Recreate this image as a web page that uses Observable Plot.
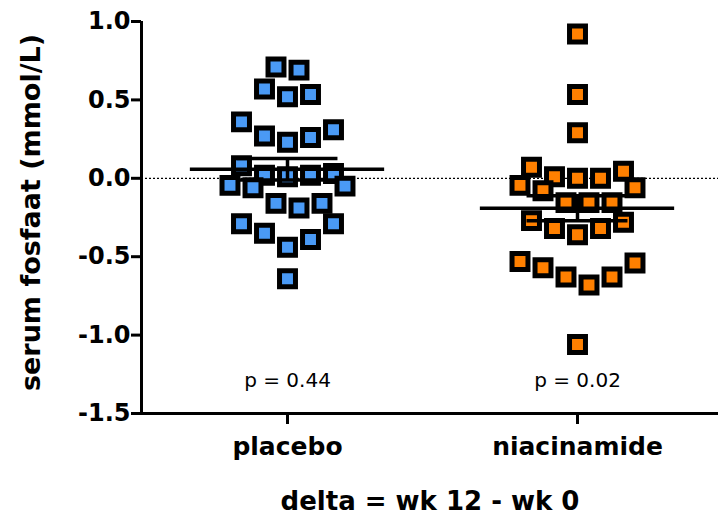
<!DOCTYPE html>
<html>
<head>
<meta charset="utf-8">
<script src="https://cdn.jsdelivr.net/npm/d3@7"></script>
<script src="https://cdn.jsdelivr.net/npm/@observablehq/plot@0.6"></script>
<style>
  html, body { margin: 0; padding: 0; background: #fff; }
  #chart { width: 718px; height: 529px; }
</style>
</head>
<body>
<div id="chart"></div>
<script>
// ---- data ----
const groups = ["placebo", "niacinamide"];
const placebo = [0.71, 0.69, 0.57, 0.535, 0.52, 0.36, 0.31, 0.27, 0.26, 0.23,
  0.08, 0.03, 0.02, 0.02, 0.01, -0.045, -0.05, -0.06, -0.16, -0.16, -0.19,
  -0.29, -0.29, -0.35, -0.39, -0.44, -0.64];
const niacinamide = [0.92, 0.535, 0.29, 0.07, 0.045, 0.01, 0.0, 0.0,
  -0.045, -0.06, -0.08, -0.155, -0.155, -0.155, -0.27, -0.28, -0.32, -0.32, -0.36,
  -0.53, -0.54, -0.57, -0.63, -0.63, -0.68, -1.06];
const pLabels = ["p = 0.44", "p = 0.02"];
const yTicks = [1.0, 0.5, 0.0, -0.5, -1.0, -1.5];
const yTitle = "serum fosfaat (mmol/L)";
const xTitle = "delta = wk 12 - wk 0";
const colors = ["#4a9af5", "#ff8000"];

// ---- GraphPad-like column scatter layout ----
const BIN0 = -0.025, BINW = 0.22, COL = 23 / 290;
function layout(values, gi) {
  const bins = d3.group(values, v => Math.floor((v - BIN0) / BINW));
  const out = [];
  for (const [, vals] of bins) {
    const s = vals.slice().sort((a, b) => b - a);
    const n = s.length;
    const slots = d3.range(n).map(i => i - (n - 1) / 2);
    let lo = 0, hi = n - 1;
    s.forEach((v, k) => {
      const off = (k % 2 === 0) ? slots[lo++] : slots[hi--];
      out.push({g: gi, v, x: gi + off * COL});
    });
  }
  return out;
}
const series = [placebo, niacinamide];
const points = series.flatMap((vals, gi) => layout(vals, gi));
const stats = series.map((vals, gi) => {
  const m = d3.mean(vals);
  const sem = d3.deviation(vals) / Math.sqrt(vals.length);
  return {g: gi, mean: m, lo: m - sem, hi: m + sem};
});

const X0 = -146 / 290, X1 = X0 + 577 / 290;
const MEANW = 0.335, CAPW = 0.174;

const chart = Plot.plot({
  width: 718,
  height: 529,
  marginLeft: 141,
  marginRight: 0,
  marginTop: 21,
  marginBottom: 116,
  style: {fontFamily: "DejaVu Sans", fontWeight: "bold", color: "#000", background: "#fff"},
  x: {domain: [X0, X1]},
  y: {domain: [-1.5, 1.0]},
  marks: [
    Plot.ruleY([0], {strokeDasharray: "2,2", strokeWidth: 1.3, stroke: "#000"}),
    Plot.dot(points, {x: "x", y: "v", symbol: "square", r: 9,
      fill: d => colors[d.g], stroke: "#000", strokeWidth: 5}),
    Plot.ruleX(stats, {x: "g", y1: "lo", y2: "hi", strokeWidth: 3.5, stroke: "#000"}),
    Plot.ruleY(stats, {y: "mean", x1: d => d.g - MEANW, x2: d => d.g + MEANW, strokeWidth: 3.5, stroke: "#000"}),
    Plot.ruleY(stats, {y: "hi", x1: d => d.g - CAPW, x2: d => d.g + CAPW, strokeWidth: 3.5, stroke: "#000"}),
    Plot.ruleY(stats, {y: "lo", x1: d => d.g - CAPW, x2: d => d.g + CAPW, strokeWidth: 3.5, stroke: "#000"}),
    Plot.ruleX([X0], {y1: -1.5, y2: 1.0, strokeWidth: 3, stroke: "#000"}),
    Plot.ruleY([-1.5], {strokeWidth: 3, stroke: "#000"}),
    Plot.axisY({ticks: yTicks, tickFormat: d => d.toFixed(1), tickSize: 10, tickPadding: 1,
      fontSize: 24, strokeWidth: 3, label: null}),
    Plot.axisX({ticks: [0, 1], tickFormat: i => groups[i], tickSize: 11, tickPadding: 13,
      fontSize: 25, strokeWidth: 3, label: null}),
    Plot.text(pLabels, {x: (d, i) => i, frameAnchor: "bottom", dy: -27, fontSize: 20,
      fontWeight: "normal", fill: "#000"}),
    Plot.text([xTitle], {frameAnchor: "bottom", dy: 96, fontSize: 26, fill: "#000"}),
    Plot.text([yTitle], {frameAnchor: "left", textAnchor: "middle", rotate: -90, dx: -110, dy: -5,
      fontSize: 27, fill: "#000"})
  ]
});
document.getElementById("chart").appendChild(chart);
</script>
</body>
</html>
